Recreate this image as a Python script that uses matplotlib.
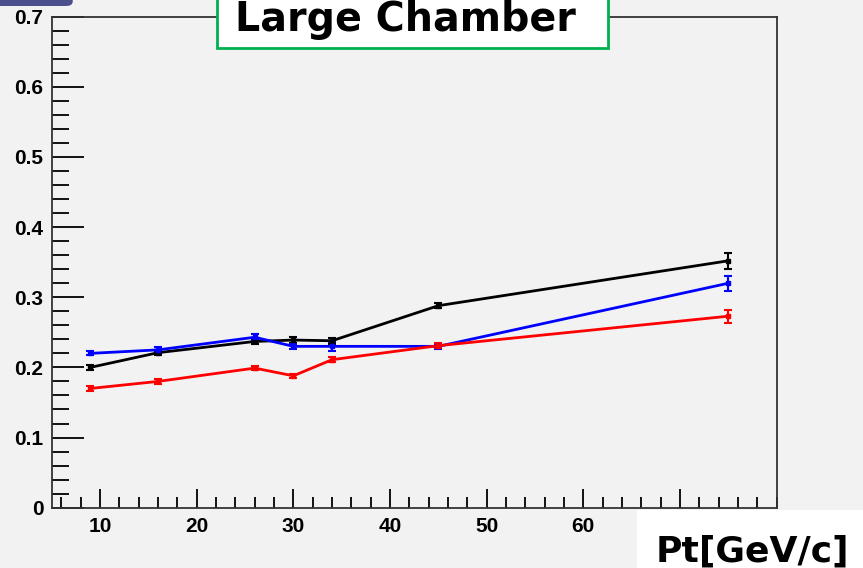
import numpy as np
import matplotlib
matplotlib.use("Agg")
import matplotlib.pyplot as plt
from matplotlib.patches import Rectangle, FancyBboxPatch
from matplotlib.ticker import MultipleLocator

# ------------------------------------------------------------------
pt = [9, 16, 26, 30, 34, 45, 75]

black_y = [0.200, 0.221, 0.237, 0.239, 0.238, 0.288, 0.352]
black_err = [0.003, 0.003, 0.003, 0.004, 0.004, 0.004, 0.011]

blue_y = [0.220, 0.225, 0.243, 0.230, 0.230, 0.230, 0.320]
blue_err = [0.003, 0.004, 0.005, 0.004, 0.006, 0.004, 0.011]

red_y = [0.170, 0.180, 0.199, 0.188, 0.211, 0.231, 0.273]
red_err = [0.003, 0.003, 0.003, 0.003, 0.004, 0.004, 0.009]

xticks = [10, 20, 30, 40, 50, 60]
yticks = [0, 0.1, 0.2, 0.3, 0.4, 0.5, 0.6, 0.7]
ylabels = ["0", "0.1", "0.2", "0.3", "0.4", "0.5", "0.6", "0.7"]

# ------------------------------------------------------------------
bg = "#f2f2f2"
fig = plt.figure(figsize=(8.63, 5.68), dpi=100, facecolor=bg)
ax = fig.add_axes([0.0599, 0.1062, 0.8401, 0.8644], facecolor=bg)

for y, e, c in [(black_y, black_err, "black"), (blue_y, blue_err, "#0000ff"), (red_y, red_err, "#ff0000")]:
    ax.errorbar(pt, y, yerr=e, color=c, lw=2, marker="s", ms=3.5, capsize=3, capthick=1.5, elinewidth=1.5)

ax.set_xlim(5, 80)
ax.set_ylim(0, 0.7)
ax.xaxis.set_minor_locator(MultipleLocator(2))
ax.yaxis.set_minor_locator(MultipleLocator(0.02))
ax.set_xticks(xticks + [70])
ax.set_xticklabels([str(v) for v in xticks] + [""])
ax.set_yticks(yticks)
ax.set_yticklabels(ylabels)

ax.tick_params(axis="x", which="major", direction="in", length=14, width=1.3, pad=7)
ax.tick_params(axis="x", which="minor", direction="in", length=8, width=1.3)
ax.tick_params(axis="y", which="major", direction="in", length=23, width=1.3, pad=6)
ax.tick_params(axis="y", which="minor", direction="in", length=12, width=1.3)
for lab in ax.get_xticklabels() + ax.get_yticklabels():
    lab.set_fontfamily("Liberation Sans")
    lab.set_fontweight("bold")
    lab.set_fontsize(15)
for s in ax.spines.values():
    s.set_color("#333333")
    s.set_linewidth(1.3)

# title box, cut at top of canvas
fig.patches.append(Rectangle((217 / 863, 1 - 47.7 / 568), (607.7 - 217) / 863, 0.2,
                             transform=fig.transFigure, facecolor="white",
                             edgecolor="#00b050", lw=2, zorder=5))
fig.text(405 / 863, 1 - 31 / 568, "Large Chamber", ha="center", va="baseline",
         fontsize=28.5, fontweight="bold", family="DejaVu Sans", zorder=6)

# axis title box
fig.patches.append(Rectangle((636.7 / 863, 0), 1, 1 - 510 / 568,
                             transform=fig.transFigure, facecolor="white",
                             edgecolor="none", zorder=5))
fig.text(752 / 863, 1 - 562 / 568, "Pt[GeV/c]", ha="center", va="baseline",
         fontsize=26, fontweight="bold", family="DejaVu Sans", zorder=6)

# small tab at top left
fig.patches.append(FancyBboxPatch((-0.02, 1 - 6 / 568), 90 / 863, 0.05,
                                  boxstyle="round,pad=0,rounding_size=0.008",
                                  transform=fig.transFigure, facecolor="#4b4f8c",
                                  edgecolor="none", zorder=5))

fig.savefig("out.png", dpi=100, facecolor=bg)
